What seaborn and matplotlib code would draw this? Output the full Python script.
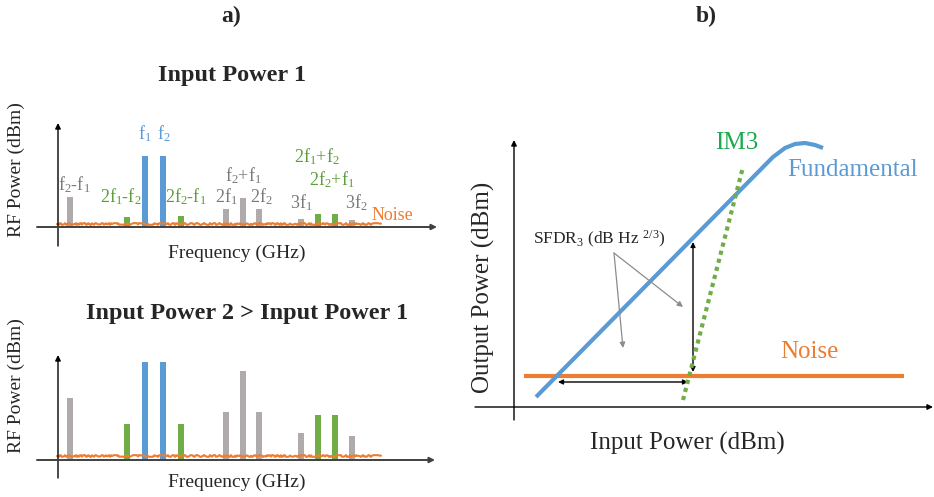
import numpy as np
import pandas as pd
import matplotlib
matplotlib.use("Agg")
import matplotlib.pyplot as plt
import seaborn as sns

# ------------------------------------------------------------------ data
components = ["f2-f1", "2f1-f2", "f1", "f2", "2f2-f1", "2f1", "f2+f1", "2f2",
              "3f1", "2f1+f2", "2f2+f1", "3f2"]
comp_kind = ["mix", "im3", "fund", "fund", "im3", "mix", "mix", "mix",
             "mix", "im3", "im3", "mix"]
freq_pos = [1.2, 6.9, 8.7, 10.5, 12.3, 16.8, 18.5, 20.1, 24.3, 26.0, 27.7, 29.4]
power_in1 = [3.0, 1.0, 7.1, 7.1, 1.1, 1.8, 2.9, 1.8, 0.8, 1.3, 1.3, 0.7]
power_in2 = [6.2, 3.6, 9.8, 9.8, 3.6, 4.8, 8.9, 4.8, 2.7, 4.5, 4.5, 2.4]
noise_freq = [-0.1, 32.3]
noise_level_1 = [0.3, 0.3]
noise_level_2 = [0.4, 0.4]

fund_in = [2.2, 25.9, 27.1, 28.1, 29.1, 30.1, 30.9]
fund_out = [1.0, 25.0, 25.9, 26.3, 26.4, 26.2, 25.9]
im3_in = [16.9, 22.9]
im3_out = [0.7, 24.0]
noise_in = [1.0, 39.0]
noise_out = [3.1, 3.1]

# ------------------------------------------------------------------ style
sns.set_style("white")
plt.rcParams["font.family"] = ["Liberation Serif", "DejaVu Serif"]
plt.rcParams["mathtext.fontset"] = "custom"
plt.rcParams["mathtext.rm"] = "Liberation Serif"
plt.rcParams["mathtext.it"] = "Liberation Serif:italic"
plt.rcParams["mathtext.bf"] = "Liberation Serif:bold"
plt.rcParams["mathtext.default"] = "regular"

BLUE = "#5B9BD5"
GREEN = "#70AD47"
GREEN_TXT = "#5E9E3A"
GRAY = "#AFABAB"
GRAY_TXT = "#7A7A7A"
ORANGE = "#ED7D31"
IM3_GREEN = "#1DAA4F"
AXIS = "#404040"
palette = {"fund": BLUE, "im3": GREEN, "mix": GRAY}

W, H = 934, 497
fig = plt.figure(figsize=(W / 100, H / 100), dpi=100)


def px_axes(x0, y0, x1, y1):
    ax = fig.add_axes([x0 / W, 1 - y1 / H, (x1 - x0) / W, (y1 - y0) / H])
    return ax


def ptext(px, py, s, **kw):
    kw.setdefault("ha", "center")
    kw.setdefault("va", "center")
    fig.text(px / W, 1 - py / H, s, **kw)


def arrow(ax, x0, y0, x1, y1, color="black", lw=1.0, style="-|>", ms=8):
    ax.annotate("", xy=(x1, y1), xytext=(x0, y0),
                arrowprops=dict(arrowstyle=style, color=color, lw=lw,
                                mutation_scale=ms, shrinkA=0, shrinkB=0),
                annotation_clip=False)


def spectrum(ax, powers, noise_level):
    df = pd.DataFrame({"freq": freq_pos, "power": powers, "kind": comp_kind})
    sns.barplot(data=df, x="freq", y="power", hue="kind", palette=palette,
                native_scale=True, dodge=False, width=0.34, errorbar=None,
                saturation=1, legend=False, ax=ax, zorder=2, linewidth=0)
    sns.lineplot(x=noise_freq, y=noise_level, ax=ax, color=ORANGE, lw=1.5,
                 zorder=3)
    ax.lines[-1].set_sketch_params(scale=0.9, length=4, randomness=5)


# ------------------------------------------------------------------ panel a, top
axA1 = px_axes(30, 115, 440, 250)
spectrum(axA1, power_in1, noise_level_1)
axA1.set_xlim(-2.8, 38.2)
axA1.set_ylim(-2.3, 11.2)
axA1.axis("off")
arrow(axA1, 0, -1.9, 0, 10.4)
arrow(axA1, -2.1, 0, 37.9, 0, color=AXIS, lw=1.4)

# ------------------------------------------------------------------ panel a, bottom
axA2 = px_axes(30, 345, 440, 490)
spectrum(axA2, power_in2, noise_level_2)
axA2.set_xlim(-2.8, 38.2)
axA2.set_ylim(-3.0, 11.5)
axA2.axis("off")
arrow(axA2, 0, -1.8, 0, 10.5)
arrow(axA2, -2.1, 0, 37.7, 0, color=AXIS, lw=1.4)

# ------------------------------------------------------------------ panel b
axB = px_axes(465, 125, 934, 430)
sns.lineplot(x=noise_in, y=noise_out, ax=axB, color=ORANGE, lw=3.0,
             solid_capstyle="butt", zorder=2)
sns.lineplot(x=fund_in, y=fund_out, ax=axB, color=BLUE, lw=3.0, sort=False,
             estimator=None, solid_capstyle="butt", solid_joinstyle="round",
             zorder=3)
sns.lineplot(x=im3_in, y=im3_out, ax=axB, color=GREEN, lw=3.0,
             linestyle=(0, (1, 1)), dash_capstyle="butt", zorder=4)
axB.set_xlim(-4.9, 42.0)
axB.set_ylim(-2.3, 28.2)
axB.axis("off")
arrow(axB, 0, -1.3, 0, 26.7)
arrow(axB, -3.9, 0, 41.9, 0)
# SFDR arrows
arrow(axB, 17.9, 3.5, 17.9, 16.5, style="<|-|>", ms=7)
arrow(axB, 4.4, 2.5, 17.4, 2.5, style="<|-|>", ms=7)
# pointer lines
arrow(axB, 10.0, 15.4, 10.9, 5.9, color="#8C8C8C", lw=0.9, ms=8)
arrow(axB, 10.0, 15.4, 16.9, 10.0, color="#8C8C8C", lw=0.9, ms=8)

# ------------------------------------------------------------------ texts
ptext(231, 16, "a)", fontsize=17, fontweight="bold")
ptext(706, 16, "b)", fontsize=17, fontweight="bold")
ptext(232, 75, "Input Power 1", fontsize=17.5, fontweight="bold")
ptext(247, 313, "Input Power 2 > Input Power 1", fontsize=17.5, fontweight="bold")

ptext(16, 170, "RF Power (dBm)", fontsize=14, rotation=90)
ptext(16, 386, "RF Power (dBm)", fontsize=14, rotation=90)
ptext(237, 253, "Frequency (GHz)", fontsize=14)
ptext(237, 482, "Frequency (GHz)", fontsize=14)

lab_fs = 13
ptext(74, 185, "f$_2$-f$_1$", fontsize=lab_fs, color=GRAY_TXT)
ptext(121, 197, "2f$_1$-f$_2$", fontsize=lab_fs, color=GREEN_TXT)
ptext(145, 134, "f$_1$", fontsize=lab_fs, color=BLUE)
ptext(164, 134, "f$_2$", fontsize=lab_fs, color=BLUE)
ptext(186, 197, "2f$_2$-f$_1$", fontsize=lab_fs, color=GREEN_TXT)
ptext(226, 197, "2f$_1$", fontsize=lab_fs, color=GRAY_TXT)
ptext(243, 176, "f$_2$+f$_1$", fontsize=lab_fs, color=GRAY_TXT)
ptext(261, 197, "2f$_2$", fontsize=lab_fs, color=GRAY_TXT)
ptext(301, 203, "3f$_1$", fontsize=lab_fs, color=GRAY_TXT)
ptext(317, 157, "2f$_1$+f$_2$", fontsize=lab_fs, color=GREEN_TXT)
ptext(332, 180, "2f$_2$+f$_1$", fontsize=lab_fs, color=GREEN_TXT)
ptext(356, 203, "3f$_2$", fontsize=lab_fs, color=GRAY_TXT)
ptext(392, 215, "Noise", fontsize=13, color=ORANGE)

ptext(483, 287, "Output Power (dBm)", fontsize=18, rotation=90)
ptext(687, 443, "Input Power (dBm)", fontsize=18)
ptext(737, 143, "IM3", fontsize=18, color=IM3_GREEN)
ptext(853, 170, "Fundamental", fontsize=18, color=BLUE)
ptext(809, 352, "Noise", fontsize=18, color=ORANGE)
ptext(533, 239, "SFDR$_3$ (dB Hz $^{2/3}$)", fontsize=12.5, ha="left")

fig.savefig("out.png", dpi=100)
